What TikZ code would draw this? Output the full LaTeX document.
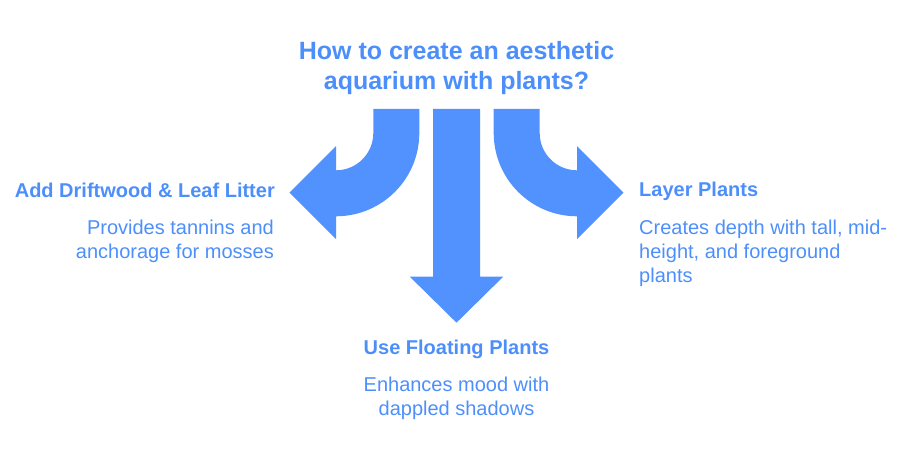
\documentclass[tikz,border=0pt]{standalone}
\usepackage{fontspec}
\setmainfont{Liberation Sans}
\usepackage{tikz}
\usetikzlibrary{positioning}
\usepackage{xcolor}
\definecolor{aquablue}{RGB}{81,146,255}
\definecolor{textblue}{RGB}{77,143,250}

\begin{document}
\begin{tikzpicture}[
  x=1pt, y=-1pt,
  bigarrow/.style={fill=aquablue, draw=none},
  titletext/.style={font=\bfseries\fontsize{25}{30}\selectfont, text=textblue, inner sep=0pt, align=center},
  headtext/.style={font=\bfseries\fontsize{20}{24}\selectfont, text=textblue, inner sep=0pt},
  bodytext/.style={font=\fontsize{20}{24}\selectfont, text=textblue, inner sep=0pt}
]
\useasboundingbox (0,0) rectangle (913,470);

% ==================
% Question
% ==================
\node[titletext, anchor=north] (question) at (456.5,41)
  {How to create an aesthetic\\aquarium with plants?};

% ==================
% Arrows
% ==================

% Left
\draw[bigarrow] (373.3,109) -- (419.3,109) -- (419.3,133)
  arc[start angle=0, end angle=90, radius=83.3] -- (336,239.2)
  -- (289.5,192.7) -- (336,146.2) -- (336,170.3)
  arc[start angle=90, end angle=0, radius=37.3] -- cycle;

% Middle
\draw[bigarrow] (433,109) -- (480,109) -- (480,276.7) -- (503.2,276.7)
  -- (456.5,322.7) -- (409.8,276.7) -- (433,276.7) -- cycle;

% Right
\draw[bigarrow] (539.7,109) -- (493.7,109) -- (493.7,133)
  arc[start angle=180, end angle=90, radius=83.3] -- (577,239.2)
  -- (623.5,192.7) -- (577,146.2) -- (577,170.3)
  arc[start angle=90, end angle=180, radius=37.3] -- cycle;

% ==================
% Options
% ==================

% Left
\node[headtext, anchor=base east] (driftwood) at (275,198) {Add Driftwood \& Leaf Litter};
\node[bodytext, anchor=north east, align=right] (driftwoodtxt) at (274,219.5)
  {Provides tannins and\\anchorage for mosses};

% Bottom
\node[headtext, anchor=base] (floating) at (456.5,355) {Use Floating Plants};
\node[bodytext, anchor=north, align=center] (floatingtxt) at (456.5,377)
  {Enhances mood with\\dappled shadows};

% Right
\node[headtext, anchor=base west] (layer) at (639,197) {Layer Plants};
\node[bodytext, anchor=north west, align=left] (layertxt) at (639,219.5)
  {Creates depth with tall, mid-\\height, and foreground\\plants};
\end{tikzpicture}
\end{document}
